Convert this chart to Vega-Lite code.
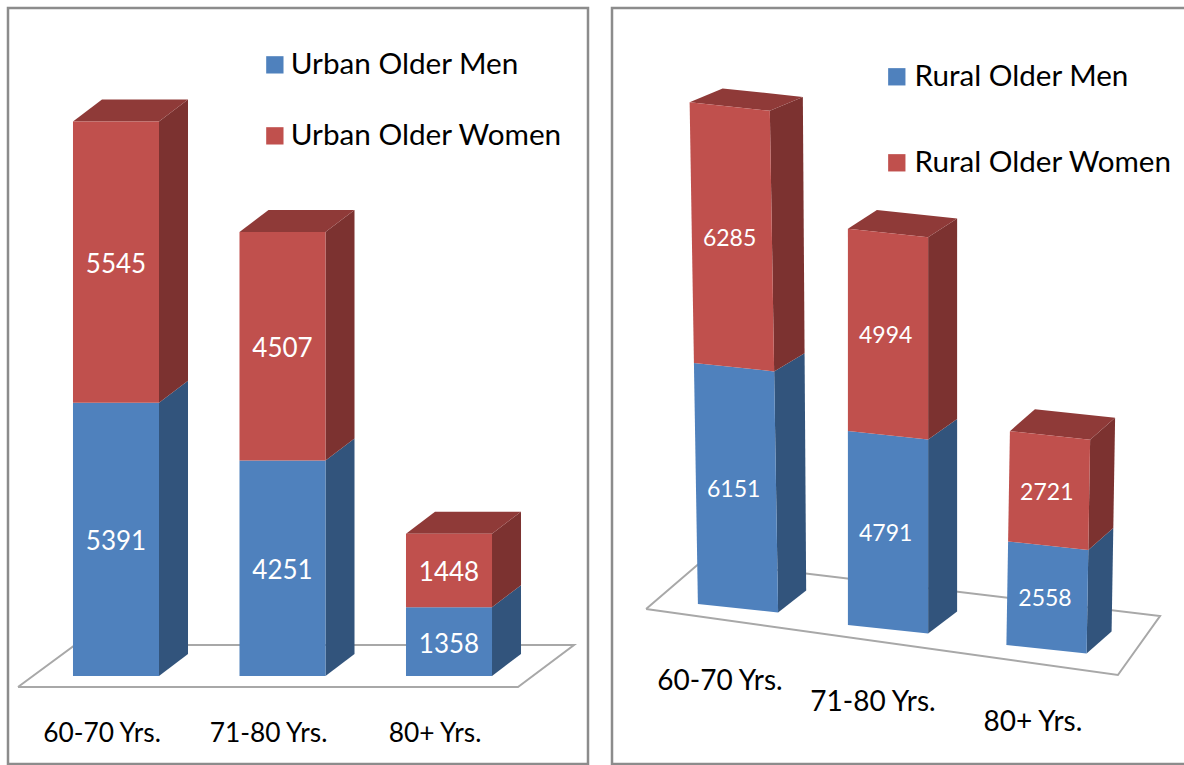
{
"$schema":"https://vega.github.io/schema/vega-lite/v6.json",
"padding":{"left":6,"top":6,"right":0,"bottom":0},
"autosize":{"type":"pad"},
"spacing":20,
"background":"white",
"datasets":{"rows":[
{"panel":"Urban","age":"60-70 Yrs.","series":"Urban Older Men","value":5391},
{"panel":"Urban","age":"60-70 Yrs.","series":"Urban Older Women","value":5545},
{"panel":"Urban","age":"71-80 Yrs.","series":"Urban Older Men","value":4251},
{"panel":"Urban","age":"71-80 Yrs.","series":"Urban Older Women","value":4507},
{"panel":"Urban","age":"80+ Yrs.","series":"Urban Older Men","value":1358},
{"panel":"Urban","age":"80+ Yrs.","series":"Urban Older Women","value":1448},
{"panel":"Rural","age":"60-70 Yrs.","series":"Rural Older Men","value":6151},
{"panel":"Rural","age":"60-70 Yrs.","series":"Rural Older Women","value":6285},
{"panel":"Rural","age":"71-80 Yrs.","series":"Rural Older Men","value":4791},
{"panel":"Rural","age":"71-80 Yrs.","series":"Rural Older Women","value":4994},
{"panel":"Rural","age":"80+ Yrs.","series":"Rural Older Men","value":2558},
{"panel":"Rural","age":"80+ Yrs.","series":"Rural Older Women","value":2721}
],"corners":[{"corner":0},{"corner":1},{"corner":2},{"corner":3},{"corner":4}]},
"hconcat":[
{
"width":580,"height":756,
"view":{"stroke":"#8c8c8c","strokeWidth":2.5,"fill":"white"},
"data":{"name":"rows"},
"transform":[
{"filter":"datum.panel==='Urban'"},
{"stack":"value","groupby":["age"],"sort":[{"field":"series","order":"ascending"}],"as":["v0","v1"]},
{"calculate":"indexof(['60-70 Yrs.','71-80 Yrs.','80+ Yrs.'],datum.age)","as":"i"},
{"calculate":"[0,1,2,3]","as":"corners"},
{"flatten":["corners"],"as":["corner"]},
{"calculate":"(datum.corner==0||datum.corner==3)?-1:1","as":"u"},
{"calculate":"datum.corner<2?0:1","as":"back"}
],
"encoding":{
"x":{"field":"X","type":"quantitative","axis":null,"scale":{"domain":[-0.6486,2.8348],"nice":false,"zero":false}},
"y":{"field":"Y","type":"quantitative","axis":null,"scale":{"domain":[-1736,13176],"nice":false,"zero":false}}
},
"layer":[
{"data":{"name":"corners"},
 "transform":[
  {"calculate":"[-0.5886,-0.2462,2.7508,2.4144,-0.5886][datum.corner]","as":"X"},
  {"calculate":"[-217,611,611,-217,-217][datum.corner]","as":"Y"}],
 "mark":{"type":"line","stroke":"#a8a8a8","strokeWidth":2,"fill":"white"},
 "encoding":{"order":{"field":"corner"}}},
{"transform":[
  {"calculate":"(datum.corner==0||datum.corner==3)?datum.v0:datum.v1","as":"val"},
  {"calculate":"datum.i+0.2583+datum.back*0.1742","as":"X"},
  {"calculate":"datum.val+datum.back*434","as":"Y"}],
 "mark":{"type":"line","strokeWidth":0},
 "encoding":{"fill":{"field":"series","legend":null,"scale":{"domain":["Urban Older Men","Urban Older Women"],"range":["#32547c","#7c3230"]}},"detail":{"field":"age"},"order":{"field":"corner"}}},
{"transform":[
  {"filter":"indexof(datum.series,'Women')>=0"},
  {"calculate":"datum.i+datum.u*0.2583+datum.back*0.1742","as":"X"},
  {"calculate":"datum.v1+datum.back*434","as":"Y"}],
 "mark":{"type":"line","strokeWidth":0,"fill":"#8f3a38"},
 "encoding":{"detail":{"field":"age"},"order":{"field":"corner"}}},
{"transform":[
  {"calculate":"datum.corner<2?datum.v0:datum.v1","as":"val"},
  {"calculate":"datum.i+datum.u*0.2583","as":"X"},
  {"calculate":"datum.val","as":"Y"}],
 "mark":{"type":"line","strokeWidth":0},
 "encoding":{"fill":{"field":"series","title":null,"scale":{"domain":["Urban Older Men","Urban Older Women"],"range":["#4f81bd","#c0504d"]},
   "legend":{"orient":"none","legendX":252,"legendY":42,"symbolType":"square","symbolSize":300,"symbolStrokeWidth":0,"labelFont":"Lato","labelFontSize":29.7,"labelColor":"#000000","labelOffset":1,"labelLimit":400,"rowPadding":40,"symbolOpacity":1}},
   "detail":{"field":"age"},"order":{"field":"corner"}}},
{"transform":[
  {"filter":"datum.corner==0"},
  {"calculate":"datum.i","as":"X"},
  {"calculate":"(datum.v0+datum.v1)/2","as":"Y"}],
 "mark":{"type":"text","color":"white","font":"Lato","fontSize":26,"baseline":"middle","align":"center","dy":3},
 "encoding":{"text":{"field":"value","type":"quantitative"}}},
{"transform":[
  {"filter":"datum.corner==0&&indexof(datum.series,'Women')<0"},
  {"calculate":"datum.i-0.084","as":"X"},
  {"calculate":"-1105","as":"Y"}],
 "mark":{"type":"text","color":"#000000","font":"Lato","fontSize":26.3,"baseline":"middle","align":"center","dy":2},
 "encoding":{"text":{"field":"age"}}}
],
"resolve":{"scale":{"fill":"independent"}}
},
{
"width":574,"height":756,
"view":{"stroke":"#8c8c8c","strokeWidth":2.5,"fill":"white"},
"data":{"name":"rows"},
"transform":[
{"filter":"datum.panel==='Rural'"},
{"stack":"value","groupby":["age"],"sort":[{"field":"series","order":"ascending"}],"as":["v0","v1"]},
{"calculate":"indexof(['60-70 Yrs.','71-80 Yrs.','80+ Yrs.'],datum.age)","as":"i"},
{"calculate":"datum.i==0?(datum.v0>0?datum.v0-198:0):datum.v0","as":"v0"},
{"calculate":"datum.i==0?(datum.v1>7000?datum.v1-50:datum.v1-198):datum.v1","as":"v1"},
{"calculate":"[0,0.9725,2][datum.i]","as":"c"},
{"calculate":"[0,519,1012][datum.i]","as":"drop"},
{"calculate":"[0.214,0.188,0.162][datum.i]","as":"dx"},
{"calculate":"[0,1,2,3]","as":"corners"},
{"flatten":["corners"],"as":["corner"]},
{"calculate":"(datum.corner==0||datum.corner==3)?-1:1","as":"u"},
{"calculate":"datum.corner<2?0:1","as":"back"}
],
"encoding":{
"x":{"field":"X","type":"quantitative","axis":null,"scale":{"domain":[-0.8169,2.9044],"nice":false,"zero":false}},
"y":{"field":"Y","type":"quantitative","axis":null,"scale":{"domain":[-3951,14716],"nice":false,"zero":false}}
},
"layer":[
{"data":{"name":"corners"},
 "transform":[
  {"calculate":"[-0.596,-0.2334,2.736,2.463,-0.596][datum.corner]","as":"X"},
  {"calculate":"[-123,1062,-296,-1753,-123][datum.corner]","as":"Y"}],
 "mark":{"type":"line","stroke":"#a8a8a8","strokeWidth":2,"fill":"white"},
 "encoding":{"order":{"field":"corner"}}},
{"transform":[
  {"calculate":"(datum.corner==0||datum.corner==3)?datum.v0:datum.v1","as":"val"},
  {"calculate":"datum.c+(datum.i-1)*0.00000433*datum.val+0.26+datum.back*(datum.dx-(datum.i==0?0.032*(1-datum.val/12386):0))","as":"X"},
  {"calculate":"datum.val-datum.drop-210+datum.back*(543-(2-datum.i)*0.008*datum.val)","as":"Y"}],
 "mark":{"type":"line","strokeWidth":0},
 "encoding":{"fill":{"field":"series","legend":null,"scale":{"domain":["Rural Older Men","Rural Older Women"],"range":["#32547c","#7c3230"]}},"detail":{"field":"age"},"order":{"field":"corner"}}},
{"transform":[
  {"filter":"indexof(datum.series,'Women')>=0"},
  {"calculate":"datum.c+(datum.i-1)*0.00000433*datum.v1+datum.u*0.26+datum.back*datum.dx","as":"X"},
  {"calculate":"datum.v1-datum.drop-(datum.u+1)/2*210+datum.back*(543-(2-datum.i)*0.008*datum.v1)","as":"Y"}],
 "mark":{"type":"line","strokeWidth":0,"fill":"#8f3a38"},
 "encoding":{"detail":{"field":"age"},"order":{"field":"corner"}}},
{"transform":[
  {"calculate":"datum.corner<2?datum.v0:datum.v1","as":"val"},
  {"calculate":"datum.c+(datum.i-1)*0.00000433*datum.val+datum.u*0.26","as":"X"},
  {"calculate":"datum.val-datum.drop-(datum.u+1)/2*210","as":"Y"}],
 "mark":{"type":"line","strokeWidth":0},
 "encoding":{"fill":{"field":"series","title":null,"scale":{"domain":["Rural Older Men","Rural Older Women"],"range":["#4f81bd","#c0504d"]},
   "legend":{"orient":"none","legendX":270,"legendY":54,"symbolType":"square","symbolSize":300,"symbolStrokeWidth":0,"labelFont":"Lato","labelFontSize":29.6,"labelColor":"#000000","labelOffset":3,"labelLimit":400,"rowPadding":55,"symbolOpacity":1}},
   "detail":{"field":"age"},"order":{"field":"corner"}}},
{"transform":[
  {"filter":"datum.corner==0"},
  {"calculate":"(datum.v0+datum.v1)/2","as":"mid"},
  {"calculate":"datum.c+(datum.i-1)*0.00000433*datum.mid-0.015","as":"X"},
  {"calculate":"datum.mid-datum.drop-105","as":"Y"}],
 "mark":{"type":"text","color":"white","font":"Lato","fontSize":23,"baseline":"middle","align":"center","dy":2},
 "encoding":{"text":{"field":"value","type":"quantitative"}}},
{"transform":[
  {"filter":"datum.corner==0&&indexof(datum.series,'Women')<0"},
  {"calculate":"[-0.1167,0.875,1.912][datum.i]","as":"X"},
  {"calculate":"[-1877,-2395,-2889][datum.i]","as":"Y"}],
 "mark":{"type":"text","color":"#000000","font":"Lato","fontSize":28,"baseline":"middle","align":"center","dy":2},
 "encoding":{"text":{"field":"age"}}}
],
"resolve":{"scale":{"fill":"independent"}}
}
]
}
